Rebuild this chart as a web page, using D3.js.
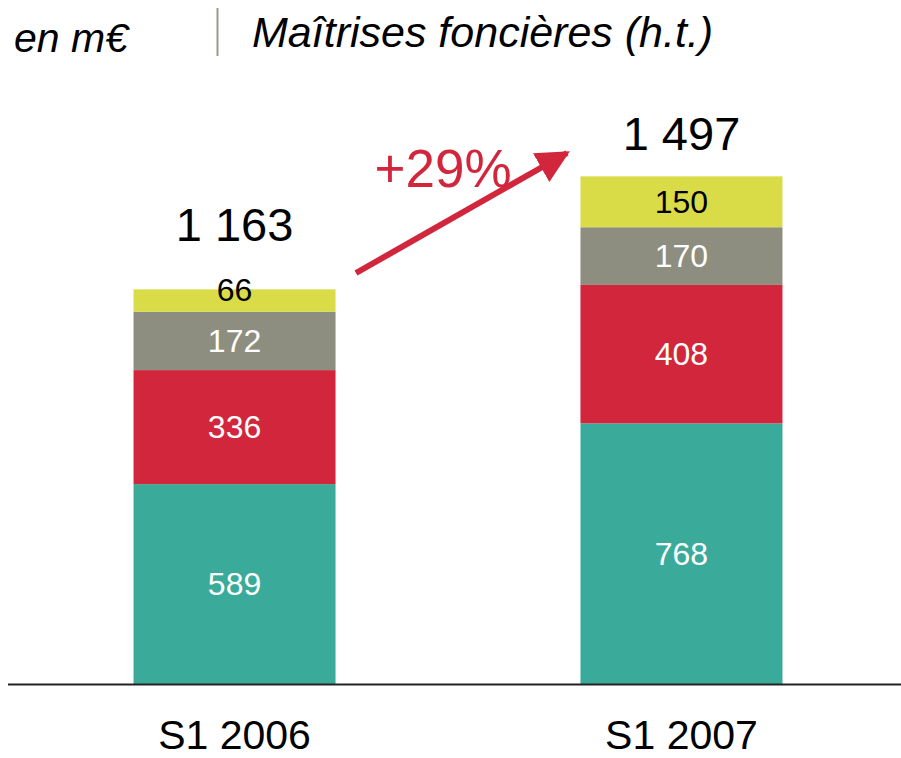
<!DOCTYPE html>
<html>
<head>
<meta charset="utf-8">
<script src="https://cdn.jsdelivr.net/npm/d3@7.9.0/dist/d3.min.js"></script>
<style>
  body { margin: 0; background: #fff; }
  text { font-family: "Liberation Sans", Arial, sans-serif; }
</style>
</head>
<body>
<div id="chart"></div>
<script>
// --- Data ---
const periods = ["S1 2006", "S1 2007"];
const segments = ["s1", "s2", "s3", "s4"]; // bottom to top
const values = {
  "S1 2006": [589, 336, 172, 66],
  "S1 2007": [768, 408, 170, 150]
};
const totals = ["1 163", "1 497"];
const growth = "+29%";

const COLORS = ["#3aab9b", "#d2263c", "#8e8e80", "#d9db47"];
const LABEL_COLORS = ["#fff", "#fff", "#fff", "#000"];

// --- Setup ---
const W = 901, H = 758;
const BASE = 684;

const svg = d3.select("#chart").append("svg").attr("width", W).attr("height", H);

const x = d3.scaleBand().domain(periods).range([20, 896]).paddingInner(0.548).paddingOuter(0.254);
const y = d3.scaleLinear().domain([0, 1497]).range([BASE, 176]);

const rows = periods.map(p => {
  const r = { period: p };
  segments.forEach((s, i) => r[s] = values[p][i]);
  return r;
});
const stacked = d3.stack().keys(segments)(rows);

// bars
stacked.forEach((layer, i) => {
  svg.append("g")
    .attr("fill", COLORS[i])
    .selectAll("rect")
    .data(layer)
    .join("rect")
    .attr("x", d => x(d.data.period))
    .attr("width", x.bandwidth())
    .attr("y", d => y(d[1]))
    .attr("height", d => y(d[0]) - y(d[1]));
});

// segment labels (thin segments get the label on their top edge)
stacked.forEach((layer, i) => {
  svg.append("g")
    .selectAll("text")
    .data(layer)
    .join("text")
    .attr("x", d => x(d.data.period) + x.bandwidth() / 2)
    .attr("y", d => {
      const h = y(d[0]) - y(d[1]);
      return h < 35 ? y(d[1]) : (y(d[0]) + y(d[1])) / 2;
    })
    .attr("dy", "0.35em")
    .attr("text-anchor", "middle")
    .attr("font-size", 32)
    .attr("fill", LABEL_COLORS[i])
    .text(d => d[1] - d[0]);
});

// totals
svg.append("g")
  .selectAll("text")
  .data(rows)
  .join("text")
  .attr("x", d => x(d.period) + x.bandwidth() / 2)
  .attr("y", (d, i) => y(d3.sum(values[d.period])) - (i === 0 ? 48 : 26))
  .attr("text-anchor", "middle")
  .attr("font-size", 47)
  .attr("fill", "#000")
  .text((d, i) => totals[i]);

// baseline
svg.append("line")
  .attr("x1", 8).attr("x2", W)
  .attr("y1", BASE + 0.5).attr("y2", BASE + 0.5)
  .attr("stroke", "#222").attr("stroke-width", 2);

// category labels
svg.append("g")
  .selectAll("text")
  .data(periods)
  .join("text")
  .attr("x", d => x(d) + x.bandwidth() / 2)
  .attr("y", 749)
  .attr("text-anchor", "middle")
  .attr("font-size", 41)
  .attr("fill", "#000")
  .text(d => d);

// growth arrow
svg.append("defs").append("marker")
  .attr("id", "head")
  .attr("viewBox", "0 0 10 10")
  .attr("refX", 9).attr("refY", 5)
  .attr("markerWidth", 5.5).attr("markerHeight", 5.5)
  .attr("markerUnits", "strokeWidth")
  .attr("orient", "auto")
  .append("path").attr("d", "M0,0 L10,5 L0,10 Z").attr("fill", "#d2263c");

svg.append("line")
  .attr("x1", 356).attr("y1", 273)
  .attr("x2", 567).attr("y2", 153)
  .attr("stroke", "#d2263c").attr("stroke-width", 6)
  .attr("marker-end", "url(#head)");

svg.append("text")
  .attr("x", 443).attr("y", 187)
  .attr("text-anchor", "middle")
  .attr("font-size", 53)
  .attr("fill", "#d2263c")
  .text(growth);

// header
svg.append("text")
  .attr("x", 14).attr("y", 52)
  .attr("font-size", 41).attr("font-style", "italic")
  .attr("fill", "#000")
  .text("en m€");
svg.append("line")
  .attr("x1", 217.5).attr("x2", 217.5)
  .attr("y1", 8).attr("y2", 56)
  .attr("stroke", "#9a9a8c").attr("stroke-width", 2);
svg.append("text")
  .attr("x", 252).attr("y", 47)
  .attr("font-size", 43).attr("font-style", "italic")
  .attr("fill", "#000")
  .text("Maîtrises foncières (h.t.)");
</script>
</body>
</html>
